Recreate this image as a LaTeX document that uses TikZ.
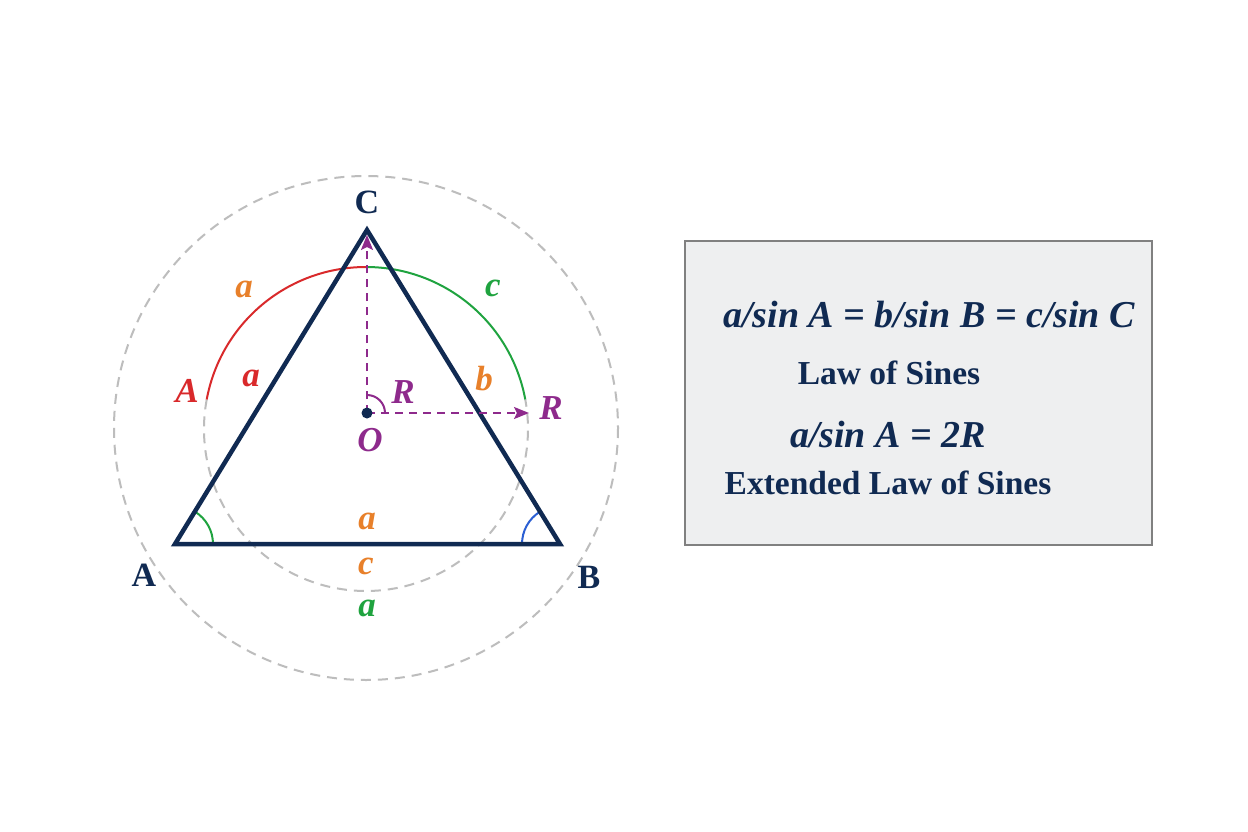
\documentclass[tikz,border=0pt]{standalone}
\usepackage{fontspec}
\setmainfont{Liberation Serif}
\usetikzlibrary{arrows.meta}
\definecolor{navy}{HTML}{102A52}
\definecolor{cred}{HTML}{D9292B}
\definecolor{corange}{HTML}{E8802A}
\definecolor{cgreen}{HTML}{1FA33F}
\definecolor{cpurple}{HTML}{8E2A8C}
\definecolor{cblue}{HTML}{2B5FD3}
\definecolor{cgray}{HTML}{BDBDBD}
\definecolor{boxfill}{HTML}{EEEFF0}
\definecolor{boxline}{HTML}{808080}
\tikzset{
  lbl/.style={font=\fontsize{35}{36}\selectfont\bfseries\itshape, inner sep=0pt},
  vlbl/.style={font=\fontsize{34}{36}\selectfont\bfseries, text=navy, inner sep=0pt},
  circ/.style={cgray, line width=2pt, dash pattern=on 10pt off 7pt},
  radius line/.style={cpurple, line width=2pt, dash pattern=on 8pt off 6pt, -{Stealth[length=15pt,width=12pt,inset=3pt]}},
  formula/.style={font=\fontsize{38}{40}\selectfont\bfseries\itshape, text=navy, inner sep=0pt},
  caption/.style={font=\fontsize{33.5}{36}\selectfont\bfseries, text=navy, inner sep=0pt}
}
\begin{document}
\begin{tikzpicture}[x=1pt,y=-1pt]
\useasboundingbox (0,0) rectangle (1248,832);
\fill[white] (0,0) rectangle (1248,832);
% outer circle
\draw[circ] (366,428) circle[radius=252];
% inner circle: lower dashed part, upper coloured arcs
\coordinate (Ic) at (366,429);
\draw[circ] (Ic) ++(-169.5:162) arc[start angle=-169.5, end angle=-370.5, radius=162];
\draw[cred, line width=2pt] (Ic) ++(-169.5:162) arc[start angle=-169.5, end angle=-90, radius=162];
\draw[cgreen, line width=2pt] (Ic) ++(-90:162) arc[start angle=-90, end angle=-10.5, radius=162];
% triangle
\coordinate (A) at (175,544);
\coordinate (B) at (560,544);
\coordinate (C) at (367,230);
% angle arcs
\draw[cgreen, line width=2pt] (A) ++(38,0) arc[start angle=0, end angle=-58, radius=38];
\draw[cblue, line width=2pt] (B) ++(-38,0) arc[start angle=180, end angle=238, radius=38];
\draw[navy, line width=4.5pt, line join=miter] (A) -- (B) -- (C) -- cycle;
% centre and radii
\coordinate (O) at (367,413);
\coordinate (Rtop) at (367,235);
\coordinate (Rright) at (529,413);
\draw[radius line] (O) -- (Rtop);
\draw[radius line] (O) -- (Rright);
\draw[cpurple, line width=2pt] (O) ++(18,0) arc[start angle=0, end angle=-90, radius=18];
\fill[navy] (O) circle[radius=5.5];
% labels
\node[vlbl] (lC) at (367,202) {C};
\node[vlbl] (lA) at (144,575) {A};
\node[vlbl] (lB) at (589,577) {B};
\node[lbl, text=cpurple] (lO) at (370,440) {O};
\node[lbl, text=cpurple] (lR1) at (403,392) {R};
\node[lbl, text=cpurple] (lR2) at (551,408) {R};
\node[lbl, text=corange] (l1) at (244,289) {a};
\node[lbl, text=cgreen] (l2) at (493,288) {c};
\node[lbl, text=cred] (l3) at (187,391) {A};
\node[lbl, text=cred] (l4) at (251,378) {a};
\node[lbl, text=corange] (l5) at (484,379) {b};
\node[lbl, text=corange] (l6) at (367,521) {a};
\node[lbl, text=corange] (l7) at (366,566) {c};
\node[lbl, text=cgreen] (l8) at (367,608) {a};
% box
\node[draw=boxline, fill=boxfill, line width=1.5pt, minimum width=467pt, minimum height=304pt, inner sep=0pt] (box) at (918.5,393) {};
\node[formula] (f1) at (929,315) {a/sin A = b/sin B = c/sin C};
\node[caption] (c1) at (889,373) {Law of Sines};
\node[formula] (f2) at (888,435) {a/sin A = 2R};
\node[caption] (c2) at (888,483) {Extended Law of Sines};
\end{tikzpicture}
\end{document}
